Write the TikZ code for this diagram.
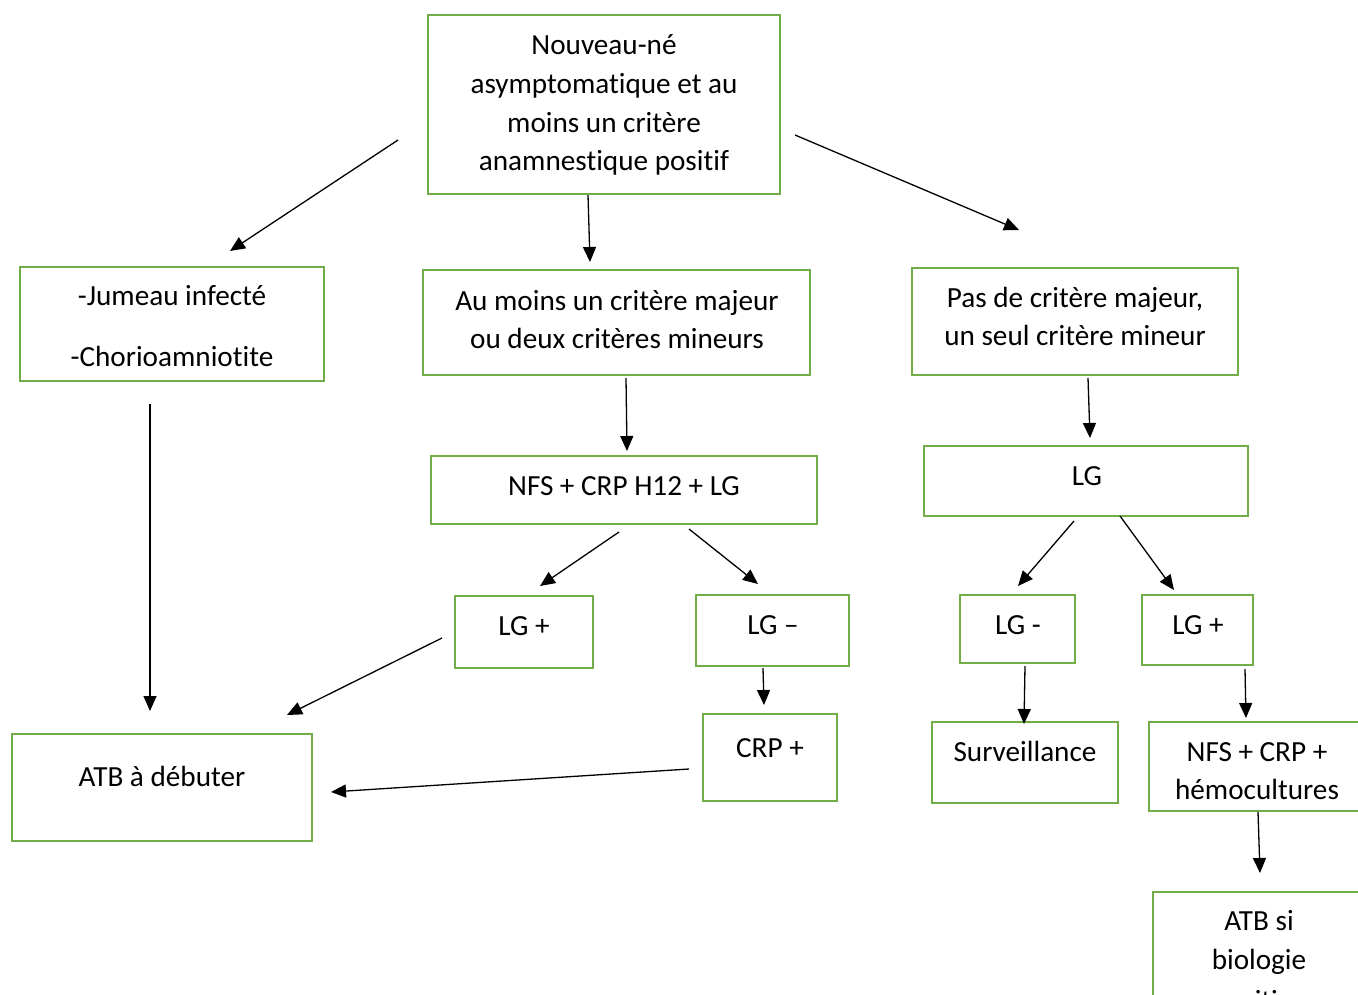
\documentclass[tikz,border=0pt]{standalone}
\usepackage{fontspec}
\setmainfont{Carlito}[Ligatures={NoCommon}]
\usetikzlibrary{arrows.meta}
\definecolor{boxgreen}{HTML}{70AD47}
\begin{document}
\begin{tikzpicture}[x=1pt,y=-1pt,
  box/.style={draw=boxgreen, line width=2.6pt, inner sep=0pt, fill=none},
  txt/.style={anchor=base, inner sep=0pt, font=\fontsize{29.2}{34}\selectfont},
  arr/.style={line width=1.3pt, -{Triangle[length=15pt,width=13pt]}}]
\useasboundingbox (0,0) rectangle (1358,994);
% boxes
\node[box, minimum width=352pt, minimum height=179pt] (top) at (604,104.5) {};
\node[box, minimum width=304pt, minimum height=114pt] (jum) at (172,324) {};
\node[box, minimum width=387pt, minimum height=105pt] (aum) at (616.5,322.5) {};
\node[box, minimum width=326pt, minimum height=107pt] (pas) at (1075,321.5) {};
\node[box, minimum width=386pt, minimum height=68pt] (nfs) at (624,490) {};
\node[box, minimum width=324pt, minimum height=70pt] (lg) at (1086,481) {};
\node[box, minimum width=138pt, minimum height=72pt] (lgpm) at (524,632) {};
\node[box, minimum width=153pt, minimum height=71pt] (lgmm) at (772.5,630.5) {};
\node[box, minimum width=134pt, minimum height=87pt] (crp) at (770,757.5) {};
\node[box, minimum width=300pt, minimum height=107pt] (atb) at (162,787.5) {};
\node[box, minimum width=115pt, minimum height=68pt] (lgmr) at (1017.5,629) {};
\node[box, minimum width=111pt, minimum height=70pt] (lgpr) at (1197.5,630) {};
\node[box, minimum width=186pt, minimum height=81pt] (surv) at (1025,762.5) {};
\node[box, minimum width=216pt, minimum height=89pt] (nfsh) at (1257,766.5) {};
\node[box, minimum width=212pt, minimum height=148pt] (atbsi) at (1259,966) {};
% texts
\node[txt] (t1a) at (604,54) {Nouveau-né};
\node[txt] (t1b) at (604,93) {asymptomatique et au};
\node[txt] (t1c) at (604,132) {moins un critère};
\node[txt] (t1d) at (604,170) {anamnestique positif};
\node[txt] (t2a) at (172,305) {-Jumeau infecté};
\node[txt] (t2b) at (172,366) {-Chorioamniotite};
\node[txt] (t3a) at (617,310) {Au moins un critère majeur};
\node[txt] (t3b) at (617,348) {ou deux critères mineurs};
\node[txt] (t4a) at (1075,307) {Pas de critère majeur,};
\node[txt] (t4b) at (1075,345) {un seul critère mineur};
\node[txt] (t5) at (624,495) {NFS + CRP H12 + LG};
\node[txt] (t6) at (1087,485) {LG};
\node[txt] (t7) at (524,635) {LG +};
\node[txt] (t8) at (773,634) {LG –};
\node[txt] (t9) at (770,757) {CRP +};
\node[txt] (t10) at (162,786) {ATB à débuter};
\node[txt] (t11) at (1018,634) {LG -};
\node[txt] (t12) at (1198,634) {LG +};
\node[txt] (t13) at (1025,761) {Surveillance};
\node[txt] (t14a) at (1257,761) {NFS + CRP +};
\node[txt] (t14b) at (1257,799) {hémocultures};
\node[txt] (t15a) at (1259,930) {ATB si};
\node[txt] (t15b) at (1259,969) {biologie};
\node[txt] (t15c) at (1259,1010) {positive};
% arrow end points
\coordinate (a1s) at (398,140);  \coordinate (a1e) at (230,251);
\coordinate (a2s) at (588,195);  \coordinate (a2e) at (590,262);
\coordinate (a3s) at (795,135);  \coordinate (a3e) at (1019,230);
\coordinate (a4s) at (626,378);  \coordinate (a4e) at (627,451);
\coordinate (a5s) at (150,404);  \coordinate (a5e) at (150,711);
\coordinate (a6s) at (1088,378); \coordinate (a6e) at (1090,438);
\coordinate (a7s) at (619,532);  \coordinate (a7e) at (540,586);
\coordinate (a8s) at (689,529);  \coordinate (a8e) at (758,584);
\coordinate (a9s) at (442,638);  \coordinate (a9e) at (287,715);
\coordinate (a10s) at (763,668); \coordinate (a10e) at (764,705);
\coordinate (a11s) at (689,769); \coordinate (a11e) at (331,792);
\coordinate (a12s) at (1074,521); \coordinate (a12e) at (1018,586);
\coordinate (a13s) at (1120,516); \coordinate (a13e) at (1174,590);
\coordinate (a14s) at (1025,666); \coordinate (a14e) at (1024,724);
\coordinate (a15s) at (1245,669); \coordinate (a15e) at (1246,718);
\coordinate (a16s) at (1258,812); \coordinate (a16e) at (1260,873);
\foreach \i in {1,...,16} { \draw[arr] (a\i s) -- (a\i e); }
\end{tikzpicture}
\end{document}
